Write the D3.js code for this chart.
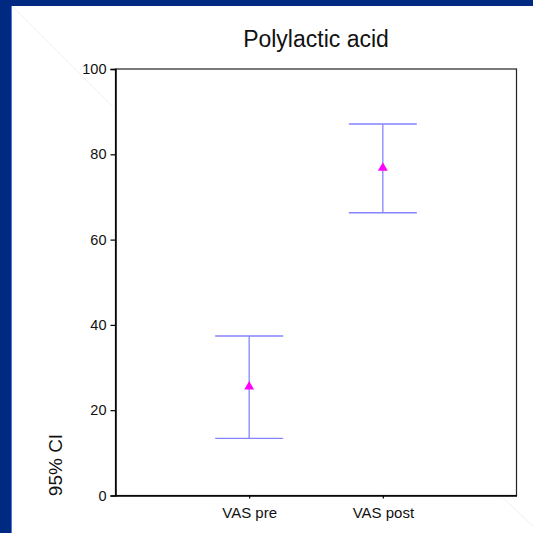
<!DOCTYPE html>
<html><head><meta charset="utf-8">
<script src="https://cdn.jsdelivr.net/npm/d3@7"></script>
<style>body{margin:0;padding:0;background:#fff;}svg{display:block;}</style>
</head><body>
<script>
const categories = ["VAS pre", "VAS post"];
const means = [25.5, 76.8];
const lower = [13.4, 66.3];
const upper = [37.4, 87.1];
const yTicks = [0, 20, 40, 60, 80, 100];
const title = "Polylactic acid";
const yLabel = "95% CI";

const W = 533, H = 533;
const svg = d3.select("body").append("svg").attr("width", W).attr("height", H);
const font = "Arial, 'Liberation Sans', sans-serif";

// background frame
svg.append("rect").attr("width", W).attr("height", H).attr("fill", "#002a82");
svg.append("rect").attr("x", 11).attr("y", 6).attr("width", 1).attr("height", H - 6).attr("fill", "#5a78d0");
svg.append("rect").attr("x", 12).attr("y", 6).attr("width", W - 12).attr("height", H - 6).attr("fill", "#ffffff");
// faint decorative diagonals
svg.append("line").attr("x1", 13).attr("y1", 7).attr("x2", 113).attr("y2", 107).attr("stroke", "#f0f0f0").attr("stroke-width", 1);
svg.append("line").attr("x1", 503).attr("y1", 498).attr("x2", 533).attr("y2", 526).attr("stroke", "#f0f0f0").attr("stroke-width", 1);

const m = {left: 115.5, right: 516.5, top: 69, bottom: 495.5};
const x = d3.scalePoint().domain(categories).range([m.left, m.right]).padding(1);
const y = d3.scaleLinear().domain([0, 100]).range([m.bottom, m.top]);

// title
svg.append("text").attr("x", (m.left + m.right) / 2).attr("y", 46.5)
  .attr("text-anchor", "middle").attr("font-family", font).attr("font-size", 23)
  .attr("fill", "#111").text(title);

// frame
svg.append("rect").attr("x", m.left).attr("y", m.top).attr("width", m.right - m.left)
  .attr("height", m.bottom - m.top).attr("fill", "none").attr("stroke", "#222").attr("stroke-width", 1.2);

// y axis
const yAxis = svg.append("g").attr("transform", `translate(${m.left},0)`)
  .call(d3.axisLeft(y).tickValues(yTicks).tickSize(5).tickPadding(4));
yAxis.select(".domain").attr("stroke", "#000").attr("stroke-width", 1.5);
yAxis.selectAll(".tick line").attr("stroke", "#000").attr("stroke-width", 1.2);
yAxis.selectAll("text").attr("font-family", font).attr("font-size", 14.5).attr("fill", "#111");

// x axis
const xAxis = svg.append("g").attr("transform", `translate(0,${m.bottom})`)
  .call(d3.axisBottom(x).tickSize(3).tickPadding(9).tickSizeOuter(0));
xAxis.select(".domain").attr("stroke", "#000").attr("stroke-width", 1.5);
xAxis.selectAll(".tick line").attr("stroke", "#000").attr("stroke-width", 1.2);
xAxis.selectAll("text").attr("font-family", font).attr("font-size", 15).attr("fill", "#111");

// y label
svg.append("text").attr("transform", `translate(62,465) rotate(-90)`)
  .attr("text-anchor", "middle").attr("font-family", font).attr("font-size", 19)
  .attr("fill", "#111").text(yLabel);

// error bars
const data = categories.map((c, i) => ({c, m: means[i], lo: lower[i], hi: upper[i]}));
const capW = 34;
const eb = svg.append("g").attr("stroke", "#8585ff").attr("stroke-width", 1.3);
data.forEach(d => {
  const cx = x(d.c);
  eb.append("line").attr("x1", cx).attr("x2", cx).attr("y1", y(d.hi)).attr("y2", y(d.lo));
  eb.append("line").attr("x1", cx - capW).attr("x2", cx + capW).attr("y1", y(d.hi)).attr("y2", y(d.hi));
  eb.append("line").attr("x1", cx - capW).attr("x2", cx + capW).attr("y1", y(d.lo)).attr("y2", y(d.lo));
});
svg.append("g").selectAll("path").data(data).join("path")
  .attr("d", d3.symbol().type(d3.symbolTriangle).size(42))
  .attr("transform", d => `translate(${x(d.c)},${y(d.m)})`)
  .attr("fill", "#ff00ff");
</script>
</body></html>
